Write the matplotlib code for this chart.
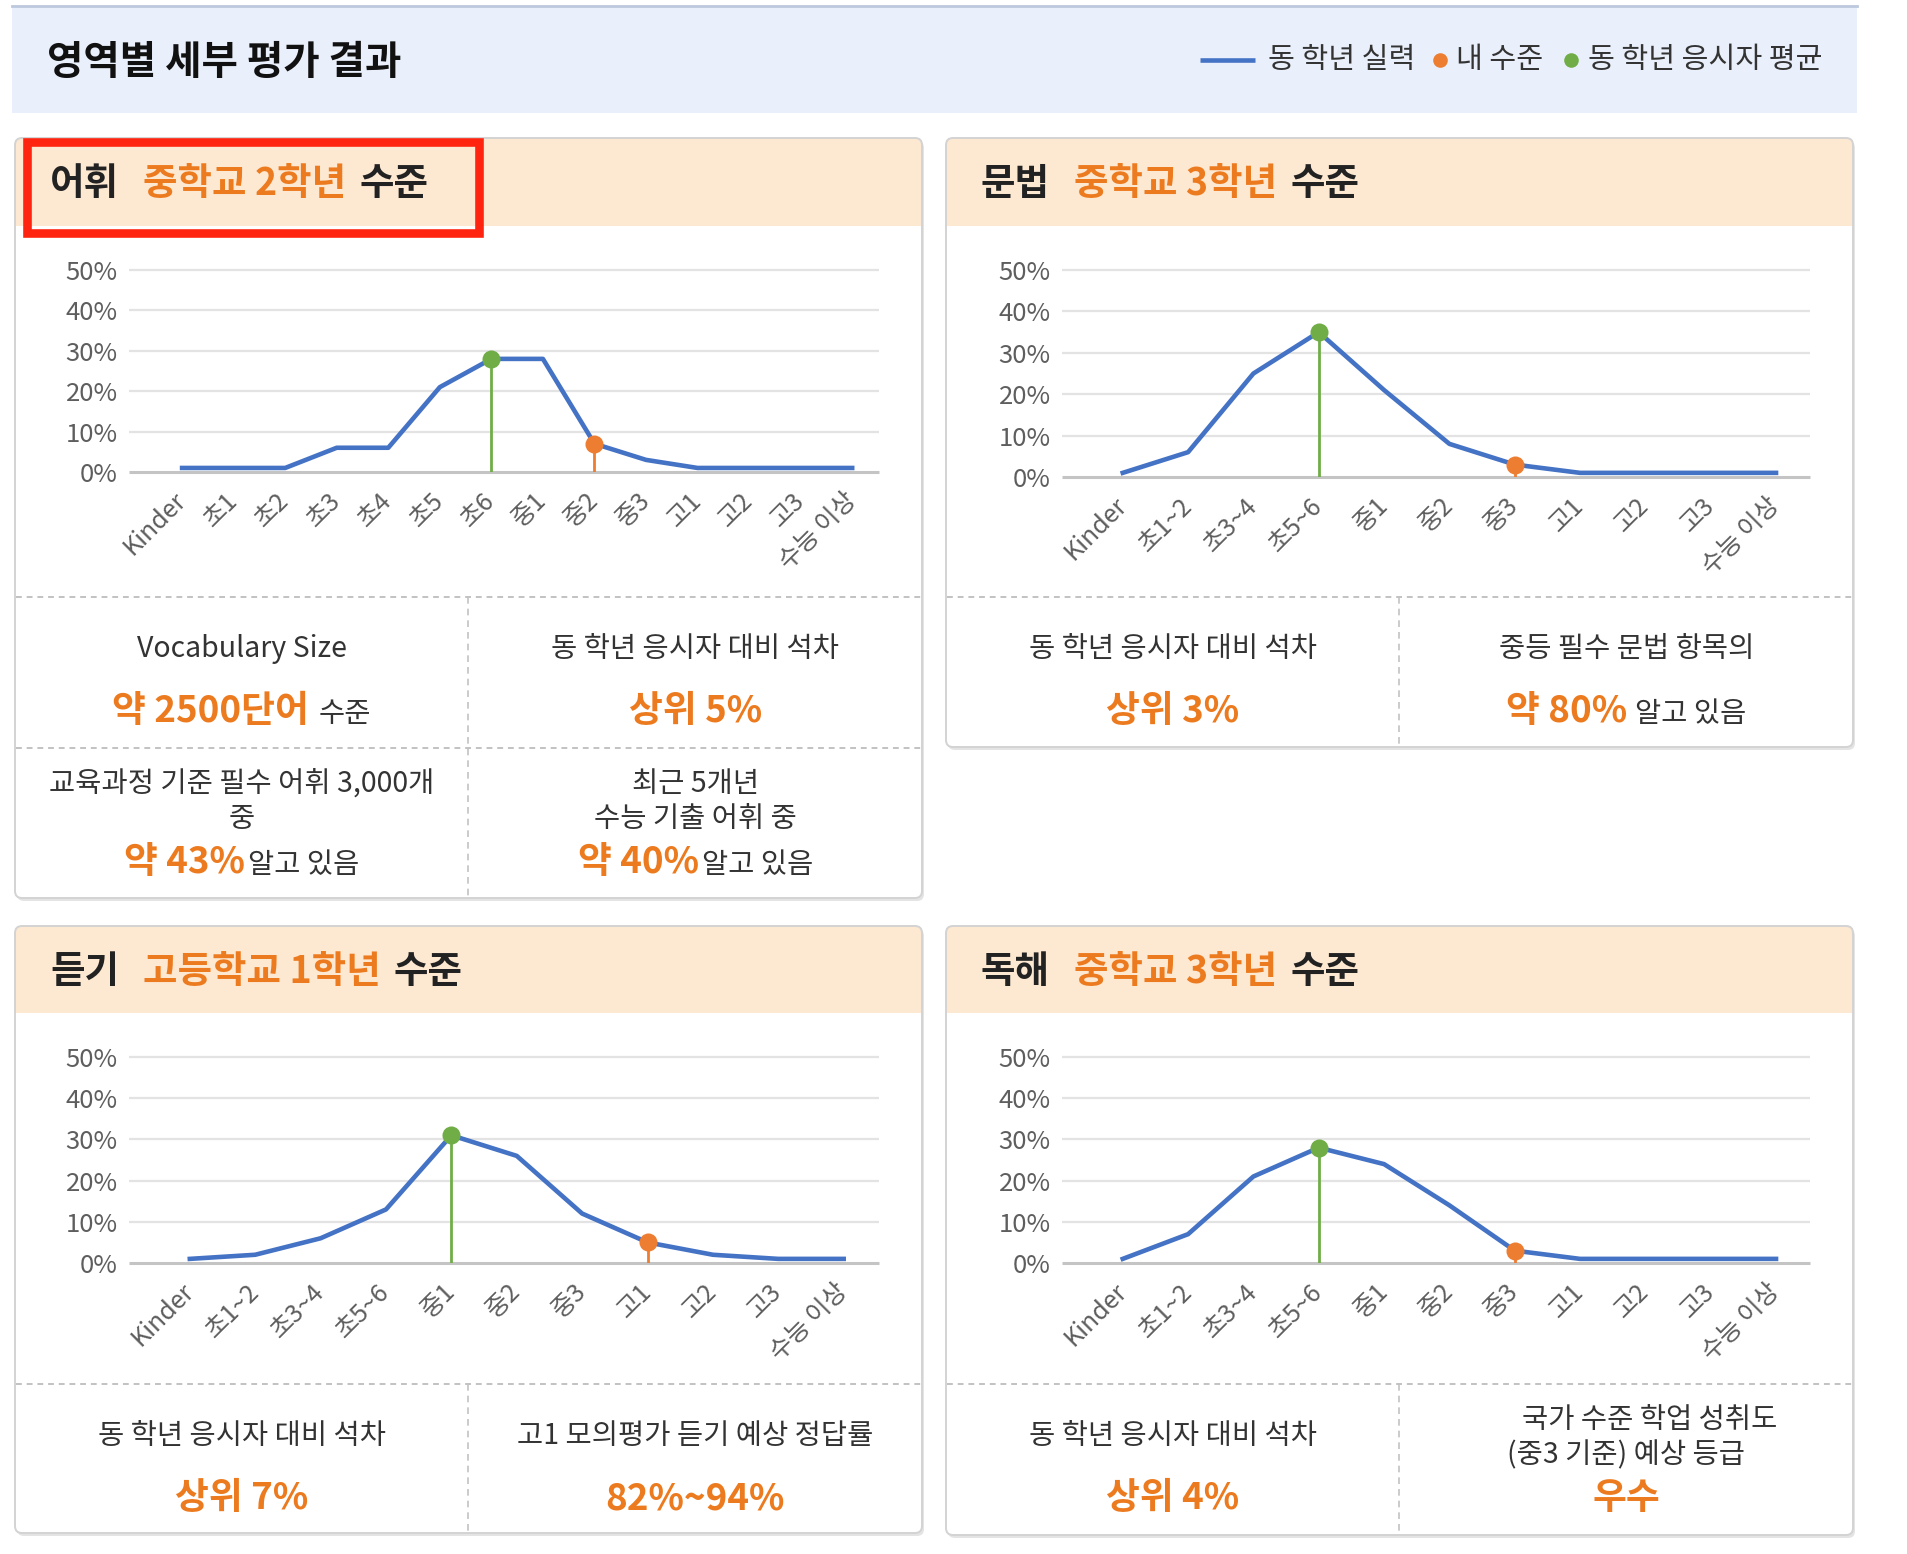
"""Detailed per-area assessment result card (영역별 세부 평가 결과)."""
import matplotlib

matplotlib.use("Agg")
import matplotlib.pyplot as plt
from matplotlib.patches import FancyBboxPatch, Rectangle

plt.rcParams["font.family"] = ["Noto Sans CJK KR", "DejaVu Sans"]

W, H = 1908, 1554

# ---------------------------------------------------------------------------
# data
# ---------------------------------------------------------------------------
GRADES_FINE = ["Kinder", "초1", "초2", "초3", "초4", "초5", "초6",
               "중1", "중2", "중3", "고1", "고2", "고3", "수능 이상"]
GRADES_COARSE = ["Kinder", "초1~2", "초3~4", "초5~6", "중1", "중2", "중3",
                 "고1", "고2", "고3", "수능 이상"]

VOCAB_PCT = [1, 1, 1, 6, 6, 21, 28, 28, 7, 3, 1, 1, 1, 1]
GRAMMAR_PCT = [1, 6, 25, 35, 21, 8, 3, 1, 1, 1, 1]
LISTEN_PCT = [1, 2, 6, 13, 31, 26, 12, 5, 2, 1, 1]
READ_PCT = [1, 7, 21, 28, 24, 14, 3, 1, 1, 1, 1]

# (grade of peer average, grade of my level)
VOCAB_MARKS = ("초6", "중2")
GRAMMAR_MARKS = ("초5~6", "중3")
LISTEN_MARKS = ("중1", "고1")
READ_MARKS = ("초5~6", "중3")

SECTIONS = ["어휘", "문법", "듣기", "독해"]
LEVELS = ["중학교 2학년", "중학교 3학년", "고등학교 1학년", "중학교 3학년"]

LEGEND_LABELS = ["동 학년 실력", "내 수준", "동 학년 응시자 평균"]

# info cells: rows of [left cell, right cell]; cell = lines; line = runs
VOCAB_INFO = [
    [[[("Vocabulary Size", "label", 0)], [("약 2500단어", "big", 0), ("수준", "label", 10)]],
     [[("동 학년 응시자 대비 석차", "label", 0)], [("상위 5%", "big", 0)]]],
    [[[("교육과정 기준 필수 어휘 3,000개", "label", 0)], [("중", "label", 0)],
      [("약 43%", "big", 0), ("알고 있음", "label", 3)]],
     [[("최근 5개년", "label", 0)], [("수능 기출 어휘 중", "label", 0)],
      [("약 40%", "big", 0), ("알고 있음", "label", 3)]]],
]
GRAMMAR_INFO = [
    [[[("동 학년 응시자 대비 석차", "label", 0)], [("상위 3%", "big", 0)]],
     [[("중등 필수 문법 항목의", "label", 0)], [("약 80%", "big", 0), ("알고 있음", "label", 8)]]],
]
LISTEN_INFO = [
    [[[("동 학년 응시자 대비 석차", "label", 0)], [("상위 7%", "big", 0)]],
     [[("고1 모의평가 듣기 예상 정답률", "label", 0)], [("82%~94%", "big", 0)]]],
]
READ_INFO = [
    [[[("동 학년 응시자 대비 석차", "label", 0)], [("상위 4%", "big", 0)]],
     [[("국가 수준 학업 성취도", "label", 46)], [("(중3 기준) 예상 등급", "label", 0)],
      [("우수", "big", 0)]]],
]

# ---------------------------------------------------------------------------
# style
# ---------------------------------------------------------------------------
BLUE = "#4472C4"
ORANGE = "#ED7D31"
GREEN = "#70AD47"
TEXT_ORANGE = "#EC7A1E"
DARK = "#222222"
STYLES = {
    "label": dict(fontsize=20.5, color="#333333"),
    "big": dict(fontsize=26.5, color=TEXT_ORANGE, weight="bold"),
    "head": dict(fontsize=27, color=DARK, weight="bold"),
    "head_level": dict(fontsize=27, color=TEXT_ORANGE, weight="bold"),
}

# panel layout in pixels: box, header bottom, chart grid box, dashed rows, x margins
LAYOUT = [
    dict(box=(15, 138, 922, 898), head=226, grid=(129, 270, 879, 472),
         rows=[597, 748], margins=(1.03, 0.52)),
    dict(box=(946, 138, 1853, 747), head=226, grid=(1062, 270, 1810, 477),
         rows=[597], margins=(0.93, 0.52)),
    dict(box=(15, 926, 922, 1533), head=1013, grid=(129, 1057, 879, 1263),
         rows=[1384], margins=(0.93, 0.54)),
    dict(box=(946, 926, 1853, 1535), head=1013, grid=(1062, 1057, 1810, 1263),
         rows=[1384], margins=(0.93, 0.52)),
]

fig = plt.figure(figsize=(W / 100, H / 100), dpi=100)
fig.patch.set_facecolor("white")
bg = fig.add_axes([0, 0, 1, 1])
bg.set_xlim(0, W)
bg.set_ylim(H, 0)
bg.axis("off")
renderer = fig.canvas.get_renderer()


def draw_runs(x, y, runs, center=True):
    """Place consecutive text runs on one baseline."""
    texts, widths = [], []
    for s, style, gap in runs:
        t = bg.text(0, y, s, ha="left", va="baseline", zorder=6, **STYLES[style])
        texts.append((t, gap))
        widths.append(t.get_window_extent(renderer).width + gap)
    cur = x - sum(widths) / 2 if center else x
    for (t, gap), w in zip(texts, widths):
        t.set_x(cur + gap)
        cur += w


def draw_chart(grid, cats, vals, marks, margins):
    gx0, gy0, gx1, gy1 = grid
    ax = fig.add_axes([gx0 / W, 1 - gy1 / H, (gx1 - gx0) / W, (gy1 - gy0) / H])
    ax.set_xlim(-margins[0], len(cats) - 1 + margins[1])
    ax.set_ylim(0, 50)
    ax.patch.set_alpha(0)
    for sp in ax.spines.values():
        sp.set_visible(False)
    xl = ax.get_xlim()
    ax.hlines(range(10, 51, 10), *xl, color="#E3E3E3", lw=1.6, clip_on=False, zorder=1)
    ax.hlines(0, *xl, color="#C4C4C4", lw=2.2, clip_on=False, zorder=2)
    xs = list(range(len(cats)))
    ax.plot(xs, vals, color=BLUE, lw=3.3, zorder=3, clip_on=False)
    for cat, color in zip(marks, (GREEN, ORANGE)):
        i = cats.index(cat)
        ax.vlines(i, 0, vals[i], color=color, lw=2.0, zorder=4)
        ax.plot(i, vals[i], "o", color=color, ms=13, mec="none", zorder=5, clip_on=False)
    ax.set_yticks(range(0, 51, 10))
    ax.set_yticklabels([f"{v}%" for v in range(0, 51, 10)])
    ax.set_xticks(xs)
    ax.set_xticklabels(cats, rotation=45, ha="right", va="center", rotation_mode="anchor")
    ax.tick_params(axis="y", length=0, pad=8, labelsize=18.5, labelcolor="#5E5E5E")
    ax.tick_params(axis="x", length=0, pad=18, labelsize=18, labelcolor="#5E5E5E")
    return ax


# --- top band ---------------------------------------------------------------
bg.add_patch(Rectangle((12, 6), 1845, 107, facecolor="#EAF0FB", edgecolor="none", zorder=0))
bg.plot([12, 1857], [6, 6], color="#BCC8DD", lw=2, zorder=1)
bg.text(47, 62, "영역별 세부 평가 결과", fontsize=28.5, weight="bold", color="#111111",
        va="center", ha="left")

bg.plot([1200, 1255], [60, 60], color=BLUE, lw=3.3, solid_capstyle="butt")
bg.text(1268, 60, LEGEND_LABELS[0], fontsize=21, color="#333333", va="center")
bg.plot(1440, 60, "o", color=ORANGE, ms=10.5, mec="none")
bg.text(1456, 60, LEGEND_LABELS[1], fontsize=21, color="#333333", va="center")
bg.plot(1571, 60, "o", color=GREEN, ms=10.5, mec="none")
bg.text(1588, 60, LEGEND_LABELS[2], fontsize=21, color="#333333", va="center")

# --- panels -----------------------------------------------------------------
series = [(GRADES_FINE, VOCAB_PCT, VOCAB_MARKS, VOCAB_INFO),
          (GRADES_COARSE, GRAMMAR_PCT, GRAMMAR_MARKS, GRAMMAR_INFO),
          (GRADES_COARSE, LISTEN_PCT, LISTEN_MARKS, LISTEN_INFO),
          (GRADES_COARSE, READ_PCT, READ_MARKS, READ_INFO)]

for lay, name, level, (cats, vals, marks, info) in zip(LAYOUT, SECTIONS, LEVELS, series):
    x0, y0, x1, y1 = lay["box"]
    shadow = FancyBboxPatch((x0 + 2, y0 + 3), x1 - x0, y1 - y0,
                            boxstyle="round,pad=0,rounding_size=7",
                            facecolor="#E4E4E4", edgecolor="none", zorder=1)
    bg.add_patch(shadow)
    body = FancyBboxPatch((x0, y0), x1 - x0, y1 - y0,
                          boxstyle="round,pad=0,rounding_size=7",
                          facecolor="white", edgecolor="none", zorder=2)
    bg.add_patch(body)
    head = Rectangle((x0, y0), x1 - x0, lay["head"] - y0, facecolor="#FDE8D1",
                     edgecolor="none", zorder=3)
    bg.add_patch(head)
    head.set_clip_path(body)
    bg.add_patch(FancyBboxPatch((x0, y0), x1 - x0, y1 - y0,
                                boxstyle="round,pad=0,rounding_size=7",
                                facecolor="none", edgecolor="#D3D3D3", lw=1.4, zorder=4))

    ty = (y0 + lay["head"]) / 2 + 13
    draw_runs(x0 + 35, ty, [(name, "head", 0), (level, "head_level", 24), ("수준", "head", 13)],
              center=False)

    draw_chart(lay["grid"], cats, vals, marks, lay["margins"])

    # dashed info grid
    mid = (x0 + x1) / 2
    row_tops = lay["rows"]
    for ry in row_tops:
        bg.plot([x0 + 1, x1 - 1], [ry, ry], color="#C2C2C2", lw=1.4,
                dashes=(3, 2.5), zorder=5)
    bg.plot([mid, mid], [row_tops[0], y1 - 1], color="#C2C2C2", lw=1.2,
            dashes=(4, 3), zorder=5)

    for ry, cells in zip(row_tops, info):
        for cx, lines in zip(((x0 + mid) / 2, (mid + x1) / 2), cells):
            offsets = [50, 112] if len(lines) == 2 else [34, 69, 112]
            for off, runs in zip(offsets, lines):
                big = any(st == "big" for _, st, _ in runs)
                draw_runs(cx, ry + off + (13 if big else 10), runs)

# highlight box round the first panel title
bg.add_patch(Rectangle((27.5, 141.5), 452, 91, facecolor="none",
                       edgecolor="#FF2410", lw=6.2, zorder=10))

fig.savefig("out.png", dpi=100)
